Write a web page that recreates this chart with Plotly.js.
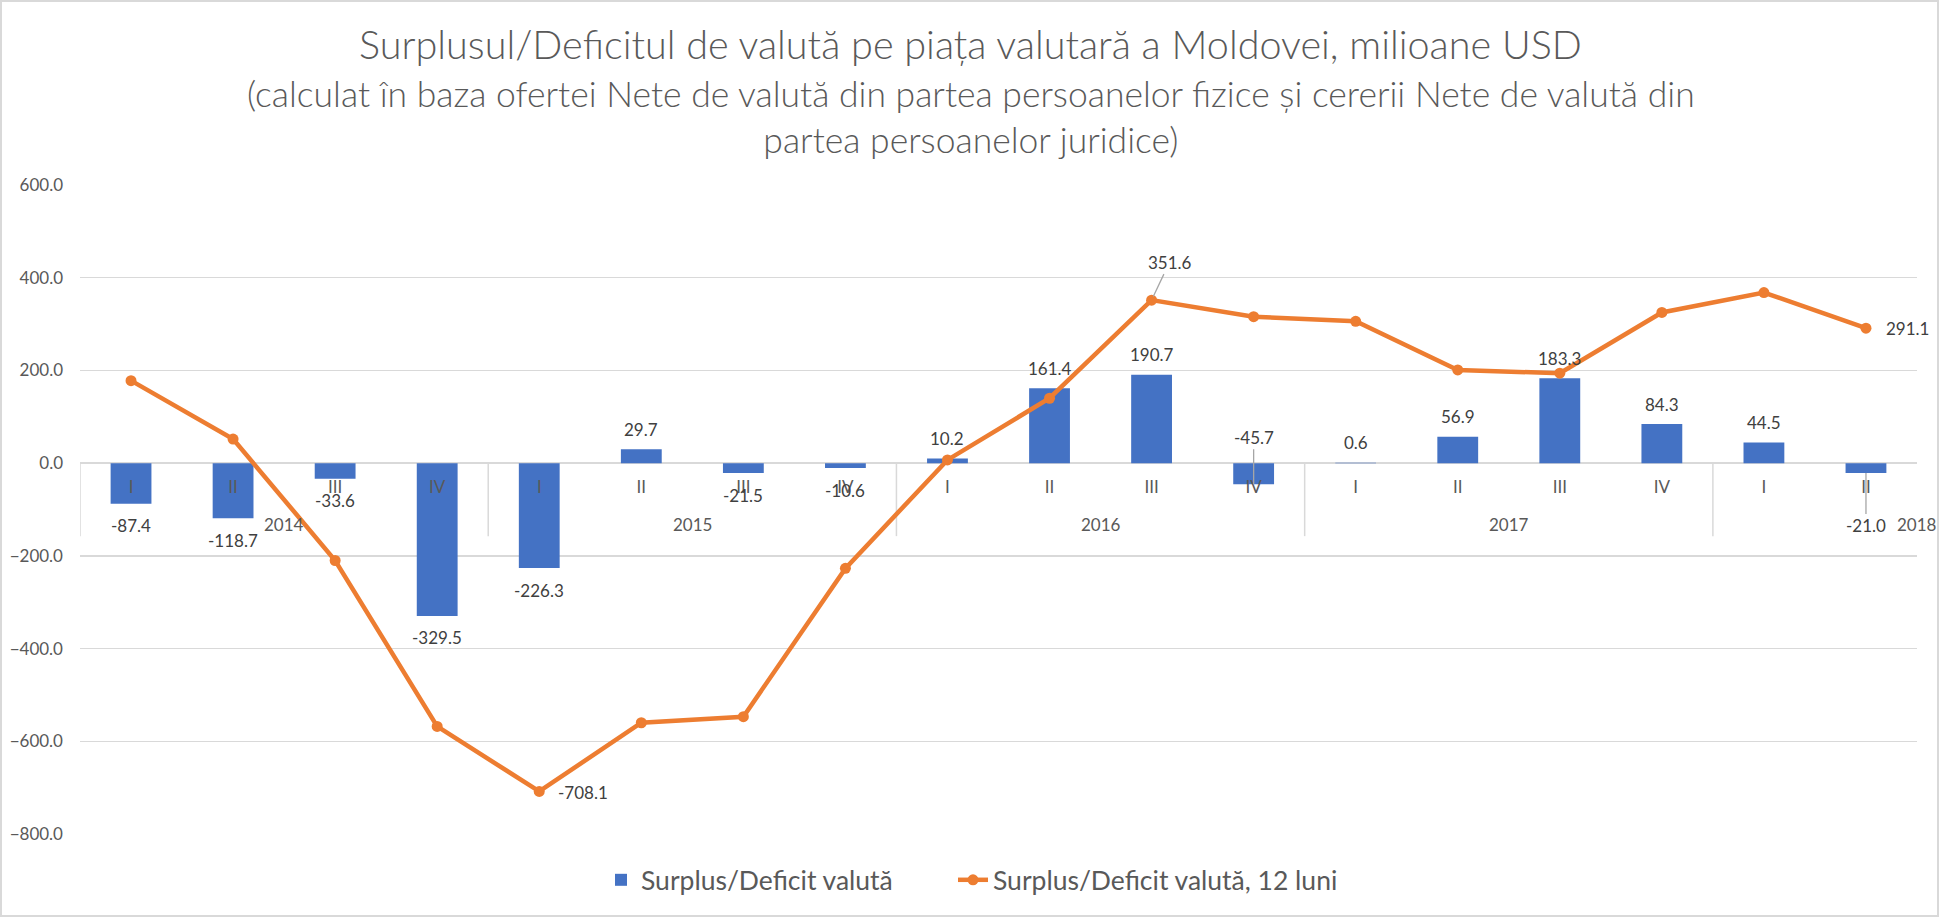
<!DOCTYPE html>
<html>
<head>
<meta charset="utf-8">
<script src="https://cdn.plot.ly/plotly-3.0.1.min.js"></script>
<style>
html, body { margin: 0; padding: 0; background: #ffffff; }
#wrap { position: relative; width: 1941px; height: 918px; }
#chart { width: 1941px; height: 918px; }
#frame { position: absolute; left: 0; top: 0; width: 1939px; height: 917px; box-sizing: border-box; border: 2px solid #d9d9d9; pointer-events: none; }
</style>
</head>
<body>
<div id="wrap"><div id="chart"></div><div id="frame"></div></div>
<script>
// ---- data ----
const quarters = ['I','II','III','IV','I','II','III','IV','I','II','III','IV','I','II','III','IV','I','II'];
const years = ['2014','2015','2016','2017','2018'];
const quartersPerYear = 4;
const barValues = [-87.4, -118.7, -33.6, -329.5, -226.3, 29.7, -21.5, -10.6, 10.2, 161.4, 190.7, -45.7, 0.6, 56.9, 183.3, 84.3, 44.5, -21.0];
const lineValues = [178, 52, -210, -568, -708.1, -560, -547, -227, 7, 140, 351.6, 316, 306, 201, 194, 325, 368, 291.1];
const lineLabelIdx = [4, 10, 17];
const barName = 'Surplus/Deficit valută';
const lineName = 'Surplus/Deficit valută, 12 luni';
const titleLine1 = 'Surplusul/Deficitul de valută pe piața valutară a Moldovei, milioane USD';
const titleLine2 = '(calculat în baza ofertei Nete de valută din partea persoanelor fizice și cererii Nete de valută din';
const titleLine3 = 'partea persoanelor juridice)';

// ---- style ----
const FONT = 'Lato, "Open Sans", sans-serif';
const AXIS_GRAY = '#595959';
const LABEL_GRAY = '#404040';
const BLUE = '#4472C4';
const ORANGE = '#ED7D31';
const GRID = '#d9d9d9';
const LBL = 17;
const W = 1941, H = 918;
const M = {l: 80, r: 24, t: 185, b: 84};
const plotW = W - M.l - M.r, plotH = H - M.t - M.b;

const xIdx = quarters.map((q, i) => i);

// special label placements (pixel offsets)
const barLabelSpecial = {
  11: {ax: 0, ay: -47},
  17: {ax: 0, ay: 53}
};
const lineLabelSpecial = {
  4: {xanchor: 'left', xshift: 17, yshift: -1},
  10: {arrow: true, ax: 18, ay: -38},
  17: {xanchor: 'left', xshift: 18, yshift: 0}
};

const annotations = [];
barValues.forEach((v, i) => {
  const txt = v.toFixed(1);
  const sp = barLabelSpecial[i];
  if (sp) {
    annotations.push({x: i, y: v, xref: 'x', yref: 'y', text: txt, showarrow: true,
      arrowhead: 0, arrowwidth: 1.3, arrowcolor: '#a6a6a6', ax: sp.ax, ay: sp.ay, standoff: 0,
      font: {family: FONT, size: LBL, color: LABEL_GRAY}});
  } else {
    annotations.push({x: i, y: v, xref: 'x', yref: 'y', text: txt, showarrow: false,
      yanchor: 'middle', yshift: v >= 0 ? 20 : -22,
      font: {family: FONT, size: LBL, color: LABEL_GRAY}});
  }
});
lineLabelIdx.forEach(i => {
  const sp = lineLabelSpecial[i];
  const txt = lineValues[i].toFixed(1);
  if (sp.arrow) {
    annotations.push({x: i, y: lineValues[i], xref: 'x', yref: 'y', text: txt, showarrow: true,
      arrowhead: 0, arrowwidth: 1.3, arrowcolor: '#a6a6a6', ax: sp.ax, ay: sp.ay, standoff: 4,
      font: {family: FONT, size: LBL, color: LABEL_GRAY}});
  } else {
    annotations.push({x: i, y: lineValues[i], xref: 'x', yref: 'y', text: txt, showarrow: false,
      xanchor: sp.xanchor, xshift: sp.xshift, yanchor: 'middle', yshift: sp.yshift,
      font: {family: FONT, size: LBL, color: LABEL_GRAY}});
  }
});
// year group labels
years.forEach((yr, k) => {
  annotations.push({x: k * quartersPerYear + (quartersPerYear - 1) / 2, y: 0, xref: 'x', yref: 'y',
    text: yr, showarrow: false, yanchor: 'middle', yshift: -61,
    font: {family: FONT, size: LBL, color: AXIS_GRAY}});
});
// subtitle lines
annotations.push({xref: 'paper', yref: 'paper', x: (W / 2 - M.l) / plotW, y: (plotH + M.t - 117) / plotH,
  xanchor: 'center', yanchor: 'middle', showarrow: false,
  text: titleLine2 + '<br>' + titleLine3,
  font: {family: FONT, size: 35.5, color: AXIS_GRAY, weight: 300}});

// group divider lines on the category axis
const shapes = [];
years.forEach((yr, k) => {
  const xb = k * quartersPerYear - 0.5;
  if (xb < quarters.length - 0.5) {
    shapes.push({type: 'line', xref: 'x', yref: 'y', ysizemode: 'pixel', yanchor: 0,
      x0: xb, x1: xb, y0: 0, y1: -73, line: {color: GRID, width: 1.5}, layer: 'below'});
  }
});

const traces = [
  {type: 'bar', x: xIdx, y: barValues, name: barName, marker: {color: BLUE}, hoverinfo: 'y', legend: 'legend'},
  {type: 'scatter', mode: 'lines+markers', x: xIdx, y: lineValues, name: lineName,
   line: {color: ORANGE, width: 4.5}, marker: {color: ORANGE, size: 11}, hoverinfo: 'y', legend: 'legend2'}
];

const legendFont = {family: FONT, size: 26.5, color: AXIS_GRAY};

const layout = {
  width: W, height: H,
  margin: {l: M.l, r: M.r, t: M.t, b: M.b, pad: 0},
  paper_bgcolor: '#ffffff', plot_bgcolor: '#ffffff',
  font: {family: FONT, color: AXIS_GRAY, size: LBL},
  title: {text: titleLine1, x: 0.5, xref: 'container', xanchor: 'center',
    y: 1 - 45 / H, yref: 'container', yanchor: 'middle',
    font: {family: FONT, size: 39.6, color: AXIS_GRAY, weight: 300}},
  bargap: 0.6,
  showlegend: true,
  legend: {orientation: 'h', x: (601 - M.l) / plotW, xanchor: 'left', y: -0.071, yanchor: 'middle',
    font: legendFont, bgcolor: 'rgba(0,0,0,0)'},
  legend2: {orientation: 'h', x: (953 - M.l) / plotW, xanchor: 'left', y: -0.071, yanchor: 'middle',
    font: legendFont, bgcolor: 'rgba(0,0,0,0)'},
  xaxis: {type: 'linear', range: [-0.5, quarters.length - 0.5], tickvals: xIdx, ticktext: quarters,
    anchor: 'free', position: 800 / 1400, showgrid: false, zeroline: false, showline: false,
    ticks: '', ticklabelstandoff: 12, tickfont: {family: FONT, size: LBL, color: AXIS_GRAY},
    fixedrange: true},
  yaxis: {range: [-800, 600], dtick: 200, tickformat: '.1f', showgrid: true, gridcolor: GRID, gridwidth: 1.5,
    zeroline: true, zerolinecolor: GRID, zerolinewidth: 1.5, showline: false, ticks: '',
    ticklabelstandoff: 16, tickfont: {family: FONT, size: LBL, color: AXIS_GRAY}, fixedrange: true},
  annotations: annotations,
  shapes: shapes
};

Plotly.newPlot('chart', traces, layout, {displayModeBar: false, staticPlot: true});
</script>
</body>
</html>
